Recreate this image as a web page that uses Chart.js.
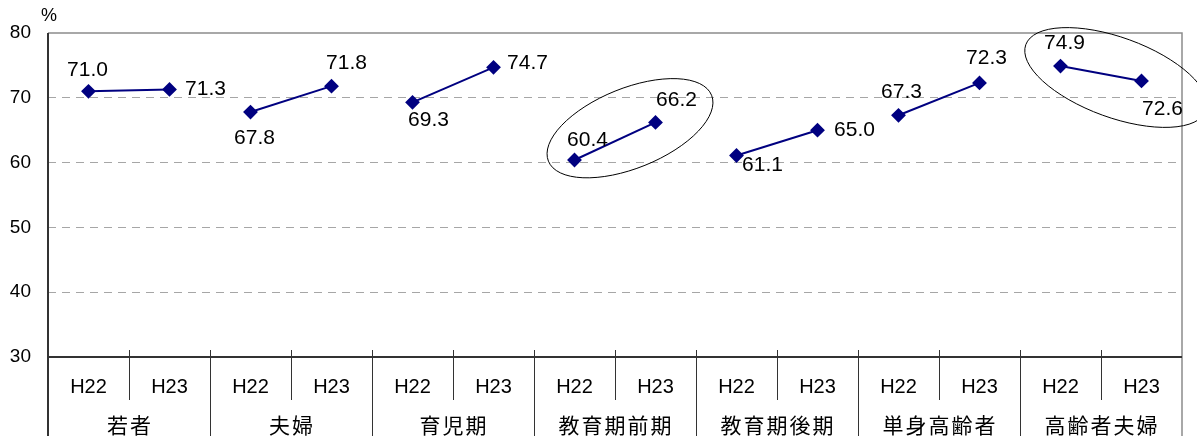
<!DOCTYPE html>
<html lang="ja">
<head>
<meta charset="utf-8">
<script src="https://cdn.jsdelivr.net/npm/chart.js@4/dist/chart.umd.min.js"></script>
<style>
  html, body { margin: 0; padding: 0; background: #fff; }
  #wrap { width: 1197px; height: 436px; position: relative; }
</style>
</head>
<body>
<div id="wrap"><canvas id="rateChart"></canvas></div>
<script>
// Household groups and survey years
const groups = ['若者', '夫婦', '育児期', '教育期前期', '教育期後期', '単身高齢者', '高齢者夫婦'];
const years = ['H22', 'H23'];
// Values in %, two per group (H22, H23)
const values = [71.0, 71.3, 67.8, 71.8, 69.3, 74.7, 60.4, 66.2, 61.1, 65.0, 67.3, 72.3, 74.9, 72.6];
const yTicks = [30, 40, 50, 60, 70, 80];
// Groups circled on the chart
const circledGroups = [3, 6];

// Where each value label sits relative to its point (px)
const labelOffsets = [
    [-1, -21], [36, 0], [4, 26], [15, -23], [16, 18], [34, -4], [13, -20],
    [21, -22], [26, 10], [37, 0], [3, -23], [7, -25], [4, -23], [21, 28]
];
// Ellipse shapes: centre shift from pair midpoint, radii, tilt (deg)
const ellipseShapes = [
    { dx: 15, dy: -13, rx: 88, ry: 40, tilt: -22 },
    { dx: 15, dy: 4, rx: 96, ry: 40, tilt: 20 }
];

const labels = [];
groups.forEach(g => years.forEach(y => labels.push(y)));

const numFont = '"Liberation Sans", Arial, sans-serif';
const jpFont = '"Noto Sans CJK JP", "Noto Sans", sans-serif';

// Value labels, frame, two-level category axis and the ellipses
const overlayPlugin = {
    id: 'overlay',
    afterDatasetsDraw(chart) {
        const ctx = chart.ctx;
        const area = chart.chartArea;
        const xs = chart.scales.x;
        const meta = chart.getDatasetMeta(0);

        ctx.save();
        // frame: top/right light, left/bottom dark
        ctx.strokeStyle = '#8c8c8c';
        ctx.lineWidth = 1.5;
        ctx.beginPath();
        ctx.moveTo(area.left, area.top);
        ctx.lineTo(area.right, area.top);
        ctx.lineTo(area.right, chart.height);
        ctx.stroke();

        ctx.strokeStyle = '#333';
        ctx.lineWidth = 2;
        ctx.beginPath();
        ctx.moveTo(area.left, area.bottom);
        ctx.lineTo(area.right, area.bottom);
        ctx.moveTo(area.left, area.top);
        ctx.lineTo(area.left, chart.height);
        ctx.stroke();

        // category separators
        ctx.lineWidth = 1;
        ctx.strokeStyle = '#333';
        for (let i = 0; i < labels.length - 1; i++) {
            const x = Math.round((xs.getPixelForValue(i) + xs.getPixelForValue(i + 1)) / 2) + 0.5;
            const bottom = (i % 2 === 1) ? chart.height : area.bottom + 43;
            ctx.beginPath();
            ctx.moveTo(x, area.bottom - 7);
            ctx.lineTo(x, bottom);
            ctx.stroke();
        }

        // year labels
        ctx.fillStyle = '#000';
        ctx.textAlign = 'center';
        ctx.textBaseline = 'middle';
        ctx.font = '20px ' + numFont;
        labels.forEach((lab, i) => {
            ctx.fillText(lab, xs.getPixelForValue(i), area.bottom + 30);
        });

        // group labels
        ctx.font = '21px ' + jpFont;
        ctx.letterSpacing = '2px';
        groups.forEach((g, k) => {
            const x = (xs.getPixelForValue(2 * k) + xs.getPixelForValue(2 * k + 1)) / 2;
            ctx.fillText(g, x + 1, area.bottom + 68);
        });
        ctx.letterSpacing = '0px';

        // value labels
        ctx.font = '21px ' + numFont;
        meta.data.forEach((pt, i) => {
            const [dx, dy] = labelOffsets[i];
            ctx.fillText(values[i].toFixed(1), pt.x + dx, pt.y + dy);
        });

        // ellipses round highlighted pairs
        ctx.strokeStyle = '#000';
        ctx.lineWidth = 1;
        circledGroups.forEach((g, k) => {
            const a = meta.data[2 * g];
            const b = meta.data[2 * g + 1];
            const s = ellipseShapes[k];
            ctx.beginPath();
            ctx.ellipse((a.x + b.x) / 2 + s.dx, (a.y + b.y) / 2 + s.dy, s.rx, s.ry,
                s.tilt * Math.PI / 180, 0, Math.PI * 2);
            ctx.stroke();
        });

        // unit
        ctx.font = '18px ' + numFont;
        ctx.fillText('%', area.left + 1, 16);
        ctx.restore();
    }
};

const ctx = document.getElementById('rateChart').getContext('2d');
new Chart(ctx, {
    type: 'line',
    data: {
        labels: labels,
        datasets: [{
            data: values,
            borderColor: '#000080',
            backgroundColor: '#000080',
            borderWidth: 2,
            pointStyle: 'rectRot',
            pointRadius: 6,
            pointHoverRadius: 6,
            tension: 0,
            // only join H22 to H23 inside each group
            segment: {
                borderColor: c => (c.p0DataIndex % 2 === 1 ? 'rgba(0,0,0,0)' : '#000080')
            }
        }]
    },
    options: {
        responsive: true,
        maintainAspectRatio: false,
        animation: false,
        layout: { padding: { top: 33, right: 15, bottom: 79, left: 0 } },
        plugins: {
            legend: { display: false },
            tooltip: { enabled: false }
        },
        scales: {
            x: {
                type: 'category',
                display: false,
                offset: true
            },
            y: {
                min: 30,
                max: 80,
                afterFit: scale => { scale.width = 48; },
                afterBuildTicks: scale => { scale.ticks = yTicks.map(v => ({ value: v })); },
                grid: {
                    drawTicks: false,
                    color: c => (c.tick && (c.tick.value === 30 || c.tick.value === 80) ? 'rgba(0,0,0,0)' : '#a6a6a6'),
                    lineWidth: 1
                },
                border: { display: false, dash: [8, 6] },
                ticks: {
                    padding: 17,
                    color: '#000',
                    font: { family: numFont, size: 19 }
                }
            }
        }
    },
    plugins: [overlayPlugin]
});
</script>
</body>
</html>
